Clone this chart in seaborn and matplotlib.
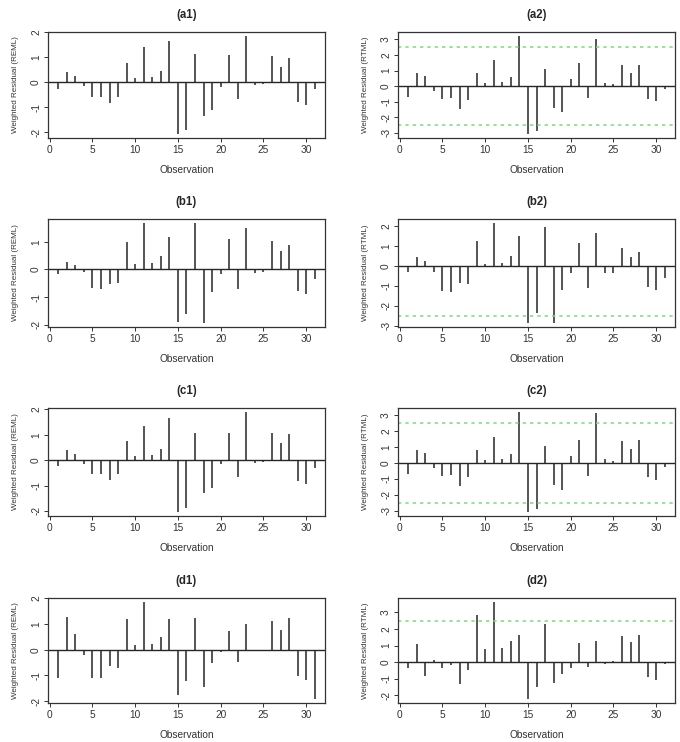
import numpy as np
import pandas as pd
import seaborn as sns
import matplotlib
matplotlib.use("Agg")
import matplotlib.pyplot as plt

obs = np.arange(1, 32)

a1 = [-0.25, 0.41, 0.24, -0.14, -0.60, -0.58, -0.82, -0.57, 0.79, 0.16, 1.41, 0.21, 0.45, 1.66, -2.07, -1.89,
      1.12, -1.34, -1.09, -0.18, 1.08, -0.66, 1.86, -0.10, -0.07, 1.04, 0.63, 0.97, -0.78, -0.91, -0.28]
a2 = [-0.71, 0.81, 0.62, -0.33, -0.84, -0.75, -1.50, -0.92, 0.85, 0.18, 1.70, 0.24, 0.56, 3.23, -3.10, -2.87,
      1.09, -1.39, -1.66, 0.43, 1.47, -0.79, 3.04, 0.22, 0.12, 1.35, 0.84, 1.37, -0.84, -0.96, -0.20]
b1 = [-0.16, 0.28, 0.15, -0.10, -0.68, -0.72, -0.54, -0.50, 1.01, 0.20, 1.68, 0.24, 0.48, 1.16, -1.89, -1.62,
      1.68, -1.94, -0.80, -0.16, 1.09, -0.70, 1.49, -0.12, -0.09, 1.04, 0.66, 0.90, -0.77, -0.88, -0.35]
b2 = [-0.32, 0.45, 0.24, -0.30, -1.26, -1.31, -0.88, -0.93, 1.23, 0.08, 2.15, 0.13, 0.49, 1.48, -2.85, -2.37,
      1.95, -2.86, -1.23, -0.34, 1.13, -1.13, 1.63, -0.35, -0.34, 0.89, 0.45, 0.72, -1.06, -1.20, -0.61]
c1 = [-0.23, 0.41, 0.26, -0.15, -0.56, -0.53, -0.78, -0.54, 0.75, 0.15, 1.34, 0.20, 0.43, 1.65, -2.04, -1.90,
      1.08, -1.30, -1.08, -0.16, 1.08, -0.65, 1.90, -0.10, -0.06, 1.09, 0.66, 1.03, -0.83, -0.95, -0.30]
c2 = [-0.68, 0.78, 0.64, -0.35, -0.83, -0.74, -1.47, -0.91, 0.83, 0.16, 1.62, 0.22, 0.53, 3.19, -3.09, -2.92,
      1.04, -1.37, -1.73, 0.45, 1.45, -0.85, 3.10, 0.22, 0.09, 1.39, 0.85, 1.41, -0.91, -1.06, -0.24]
d1 = [-1.08, 1.26, 0.62, -0.19, -1.11, -1.11, -0.65, -0.70, 1.18, 0.19, 1.86, 0.24, 0.50, 1.18, -1.76, -1.22,
      1.22, -1.43, -0.53, -0.08, 0.73, -0.47, 0.99, -0.04, -0.04, 1.13, 0.78, 1.25, -1.02, -1.18, -1.92]
d2 = [-0.38, 1.11, -0.85, 0.12, -0.34, -0.20, -1.34, -0.49, 2.83, 0.77, 3.64, 0.87, 1.26, 1.66, -2.23, -1.52,
      2.33, -1.28, -0.71, -0.38, 1.15, -0.32, 1.30, -0.12, 0.10, 1.58, 1.21, 1.64, -0.87, -1.05, -0.14]

panels = ["(a1)", "(a2)", "(b1)", "(b2)", "(c1)", "(c2)", "(d1)", "(d2)"]
series = [a1, a2, b1, b2, c1, c2, d1, d2]
cutoff = 2.5

df = pd.DataFrame({"panel": np.repeat(panels, len(obs)),
                   "obs": np.tile(obs, len(panels)),
                   "resid": np.concatenate(series)})

sns.set_style("ticks")
plt.rcParams["font.family"] = ["Liberation Sans", "DejaVu Sans"]

fig = plt.figure(figsize=(6.8, 7.42), dpi=100)
W, H = 680.0, 742.0

# box positions in pixels: (left, right) per column, (top, bottom) per row
lefts = [48, 398]
rights = [325, 675]
rows = [(32, 138), (219, 327), (408, 516), (598, 703)]

for i, name in enumerate(panels):
    r, c = divmod(i, 2)
    top, bot = rows[r]
    ax = fig.add_axes([lefts[c] / W, 1 - bot / H, (rights[c] - lefts[c]) / W, (bot - top) / H])
    sub = df[df["panel"] == name]
    ax.vlines(sub["obs"], 0, sub["resid"], color="#262626", lw=1.1)
    ax.axhline(0, color="#262626", lw=1.0)
    lo, hi = sub["resid"].min(), sub["resid"].max()
    pad = 0.04 * (hi - lo)
    ax.set_ylim(lo - pad, hi + pad)
    ax.set_xlim(-0.2, 32.2)
    if c == 1:
        for h in (cutoff, -cutoff):
            ax.axhline(h, color="#7FD77F", lw=1.1, ls=(0, (2.2, 2.6)))
    ax.set_xticks([0, 5, 10, 15, 20, 25, 30])
    ax.set_yticks(np.arange(np.ceil(lo - pad), np.floor(hi + pad) + 1))
    ax.set_yticklabels([str(int(v)) for v in ax.get_yticks()], rotation=90, va="center")
    ax.tick_params(labelsize=7.3, length=3, width=0.7, pad=2, colors="#333333")
    for s in ax.spines.values():
        s.set_linewidth(0.9)
        s.set_color("#333333")
    ax.set_xlabel("Observation", fontsize=7.3, labelpad=7, color="#333333")
    ax.set_ylabel("Weighted Residual (REML)" if c == 0 else "Weighted Residual (RTML)",
                  fontsize=5.8, labelpad=9, color="#333333")
    ax.set_title(name, fontsize=8.3, fontweight="bold", pad=10)

fig.savefig("out.png", dpi=100)
